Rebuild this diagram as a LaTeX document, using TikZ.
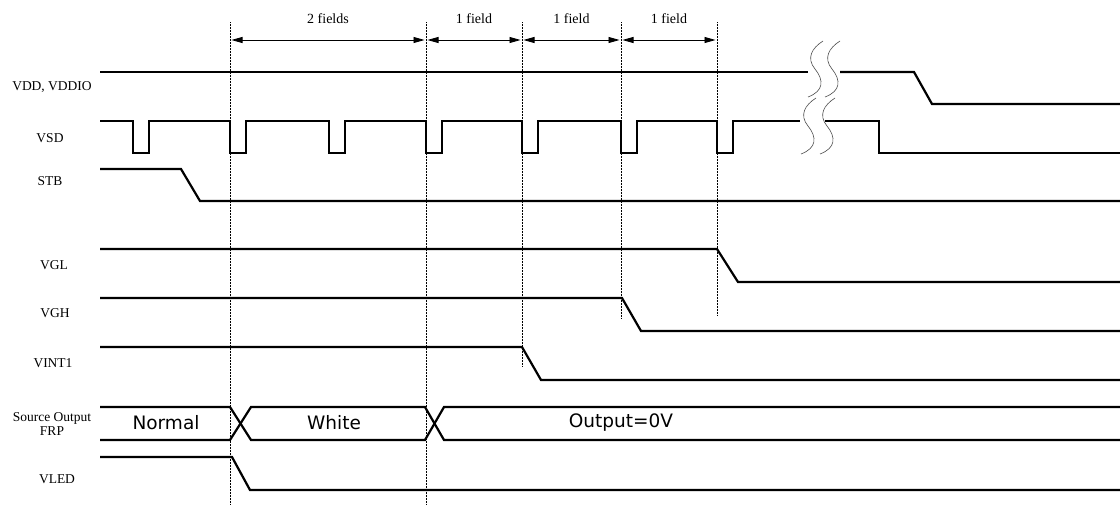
\documentclass[tikz,border=0pt]{standalone}
\usepackage{fontspec}
\setmainfont{Liberation Serif}
\newfontfamily\busfont{DejaVu Sans}
\usetikzlibrary{arrows.meta}
\tikzset{
	sig/.style={line width=2.2pt},
	guide/.style={densely dotted,line width=0.5pt},
	fieldarrow/.style={{Triangle[length=11pt,width=6pt]}-{Triangle[length=11pt,width=6pt]},line width=0.8pt,shorten <=1.5pt,shorten >=1.5pt},
	fieldlabel/.style={font=\fontsize{14}{15}\selectfont},
	signame/.style={font=\fontsize{13.5}{14}\selectfont,align=center,inner sep=0pt},
	buslabel/.style={font=\busfont\fontsize{18.5}{20}\selectfont,inner sep=0pt},
	brk/.style={line width=0.6pt,black!70},
	squig/.pic={\draw[brk] (0,0) .. controls (-11,7) and (-17,17) .. (-8,28) .. controls (1,39) and (1,50) .. (-15,56);}
}
\begin{document}
\begin{tikzpicture}[x=1pt,y=-1pt]
	\useasboundingbox (0,0) rectangle (1120,504);
	% field markers
	\coordinate (m1) at (230,22);
	\coordinate (m2) at (426,22);
	\coordinate (m3) at (522,22);
	\coordinate (m4) at (621,22);
	\coordinate (m5) at (717,22);
	\draw[guide] (m1) -- ++(0,482);
	\draw[guide] (m2) -- ++(0,482);
	\draw[guide] (m3) -- ++(0,344);
	\draw[guide] (m4) -- ++(0,296);
	\draw[guide] (m5) -- ++(0,294);
	\draw[fieldarrow] ([yshift=-18pt]m1) -- node[fieldlabel,above=13pt]{2 fields} ([yshift=-18pt]m2);
	\draw[fieldarrow] ([yshift=-18pt]m2) -- node[fieldlabel,above=13pt]{1 field} ([yshift=-18pt]m3);
	\draw[fieldarrow] ([yshift=-18pt]m3) -- node[fieldlabel,above=13pt]{1 field} ([yshift=-18pt]m4);
	\draw[fieldarrow] ([yshift=-18pt]m4) -- node[fieldlabel,above=13pt]{1 field} ([yshift=-18pt]m5);
	% signal names
	\node[signame] (vdd) at (52,87) {VDD, VDDIO};
	\node[signame] (vsd) at (50,138) {VSD};
	\node[signame] (stb) at (50,181) {STB};
	\node[signame] (vgl) at (54,265) {VGL};
	\node[signame] (vgh) at (55,313) {VGH};
	\node[signame] (vint) at (53,363) {VINT1};
	\node[signame] (src) at (52,424) {Source Output\\FRP};
	\node[signame] (vled) at (57,479) {VLED};
	% waveforms
	\draw[sig] (100,72) -- (808,72);
	\draw[sig] (840,72) -- (914,72) -- (932,104) -- (1120,104);
	\draw[sig] (100,121) foreach \t in {133,230,329,426,522,621,717}{ -- (\t,121) -- (\t,153) -- ({\t+16},153) -- ({\t+16},121)} -- (800,121);
	\draw[sig] (825,121) -- (879,121) -- (879,153) -- (1120,153);
	\draw[sig] (100,169) -- (181,169) -- (200,201) -- (1120,201);
	\draw[sig] (100,249) -- (717,249) -- (738,282) -- (1120,282);
	\draw[sig] (100,298) -- (622,298) -- (641,331) -- (1120,331);
	\draw[sig] (100,347) -- (522,347) -- (541,380) -- (1120,380);
	\draw[sig] (100,407) -- (230,407) -- (251,440) -- (425,440) -- (444,407) -- (1120,407);
	\draw[sig] (100,440) -- (230,440) -- (251,407) -- (425,407) -- (444,440) -- (1120,440);
	\draw[sig] (100,457) -- (232,457) -- (250,490) -- (1120,490);
	% bus states
	\node[buslabel] (normal) at (166,423) {Normal};
	\node[buslabel] (white) at (334,423) {White};
	\node[buslabel] (zero) at (621,423) {Output=0V};
	% time break
	\pic at (823,41) {squig};
	\pic at (840,41) {squig};
	\pic at (816,98) {squig};
	\pic at (835,98) {squig};
\end{tikzpicture}
\end{document}
